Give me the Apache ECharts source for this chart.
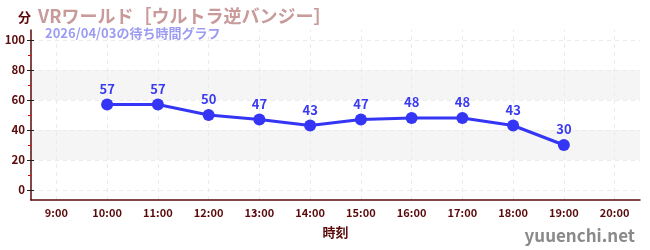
<!DOCTYPE html>
<html><head><meta charset="utf-8">
<script src="https://cdn.jsdelivr.net/npm/echarts@6/dist/echarts.min.js"></script>
<style>html,body{margin:0;padding:0;background:#fff}#c{width:650px;height:250px}</style>
</head><body><div id="c"></div>
<script>
const categories = ['9:00','10:00','11:00','12:00','13:00','14:00','15:00','16:00','17:00','18:00','19:00','20:00'];
const waitTimes = [null,57,57,50,47,43,47,48,48,43,30,null];
const yTickLabels = [0,20,40,60,80,100];
const yMinorTicks = [10,30,50,70,90];
const shadedBands = [[20,40],[60,80]];
const titleText = 'VRワールド［ウルトラ逆バンジー］';
const subtitleText = '2026/04/03の待ち時間グラフ';

const font = '"Noto Sans CJK JP","Noto Sans",sans-serif';
const axisColor = '#5a0a0a';
const chart = echarts.init(document.getElementById('c'), null, {renderer:'canvas'});
const yMin = -6.7, yMax = 106.7;
const yAxisBase = {type:'value', min:yMin, max:yMax, position:'left'};
chart.setOption({
  animation:false,
  title:[
    {text:titleText, left:33, top:2, textStyle:{fontFamily:font, fontSize:18, fontWeight:'bold', color:'#c89a9a'}},
    {text:subtitleText, left:40, top:22, textStyle:{fontFamily:font, fontSize:13, fontWeight:'bold', color:'#9c9cf2'}},
    {text:'yuuenchi.net', right:10, top:222, textStyle:{fontFamily:font, fontSize:17, fontWeight:'bold', color:'#8a8a8a'}}
  ],
  grid:{left:31, right:10, top:30, bottom:50},
  xAxis:{type:'category', data:categories, boundaryGap:true,
    name:'時刻', nameLocation:'middle', nameGap:26,
    nameTextStyle:{fontFamily:font, fontSize:13, fontWeight:'bold', color:axisColor},
    axisLine:{onZero:false, lineStyle:{color:axisColor, width:1.5}},
    axisTick:{alignWithLabel:true, length:3, lineStyle:{color:axisColor}},
    axisLabel:{fontFamily:font, fontSize:11, fontWeight:'bold', color:axisColor, margin:7},
    splitLine:{show:false}},
  yAxis:[
    Object.assign({}, yAxisBase, {
      name:'分', nameLocation:'end', nameGap:6,
      nameTextStyle:{fontFamily:font, fontSize:13, fontWeight:'bold', color:axisColor, align:'right', padding:[0,0,0,0]},
      axisLine:{show:true, onZero:false, lineStyle:{color:axisColor, width:1.5}},
      axisTick:{show:true, length:4, customValues:yTickLabels, lineStyle:{color:'#222'}},
      axisLabel:{fontFamily:font, fontSize:11.5, fontWeight:'bold', color:axisColor, margin:6, customValues:yTickLabels},
      splitLine:{show:false}, splitArea:{show:false}}),
    Object.assign({}, yAxisBase, {
      axisLine:{show:false}, axisLabel:{show:false},
      axisTick:{show:true, length:3, customValues:yMinorTicks, lineStyle:{color:'#e00000'}},
      splitLine:{show:false}}),
    Object.assign({}, yAxisBase, {
      axisLine:{show:false}, axisLabel:{show:false},
      axisTick:{show:true, inside:true, length:3, customValues:yTickLabels, lineStyle:{color:'#222'}},
      splitLine:{show:false}})
  ],
  series:[
    {type:'line', data:[], z:0, silent:true,
      markArea:{silent:true, z:0, itemStyle:{color:'#f5f5f5'},
        data:shadedBands.map(b=>[{yAxis:b[0]},{yAxis:b[1]}])},
      markLine:{silent:true, z:0, symbol:'none', label:{show:false},
        lineStyle:{color:'#ebebeb', type:[4,4], width:1},
        data:yTickLabels.map(v=>({yAxis:v})).concat(categories.map(c=>({xAxis:c})))}
    },
    {type:'line', data:waitTimes, z:5, connectNulls:false,
      symbol:'circle', symbolSize:12,
      lineStyle:{color:'#3535f5', width:3},
      itemStyle:{color:'#3535f5'},
      label:{show:true, position:'top', distance:3, fontFamily:font, fontSize:13, fontWeight:'bold', color:'#3a3af0'}}
  ]
});
</script></body></html>
